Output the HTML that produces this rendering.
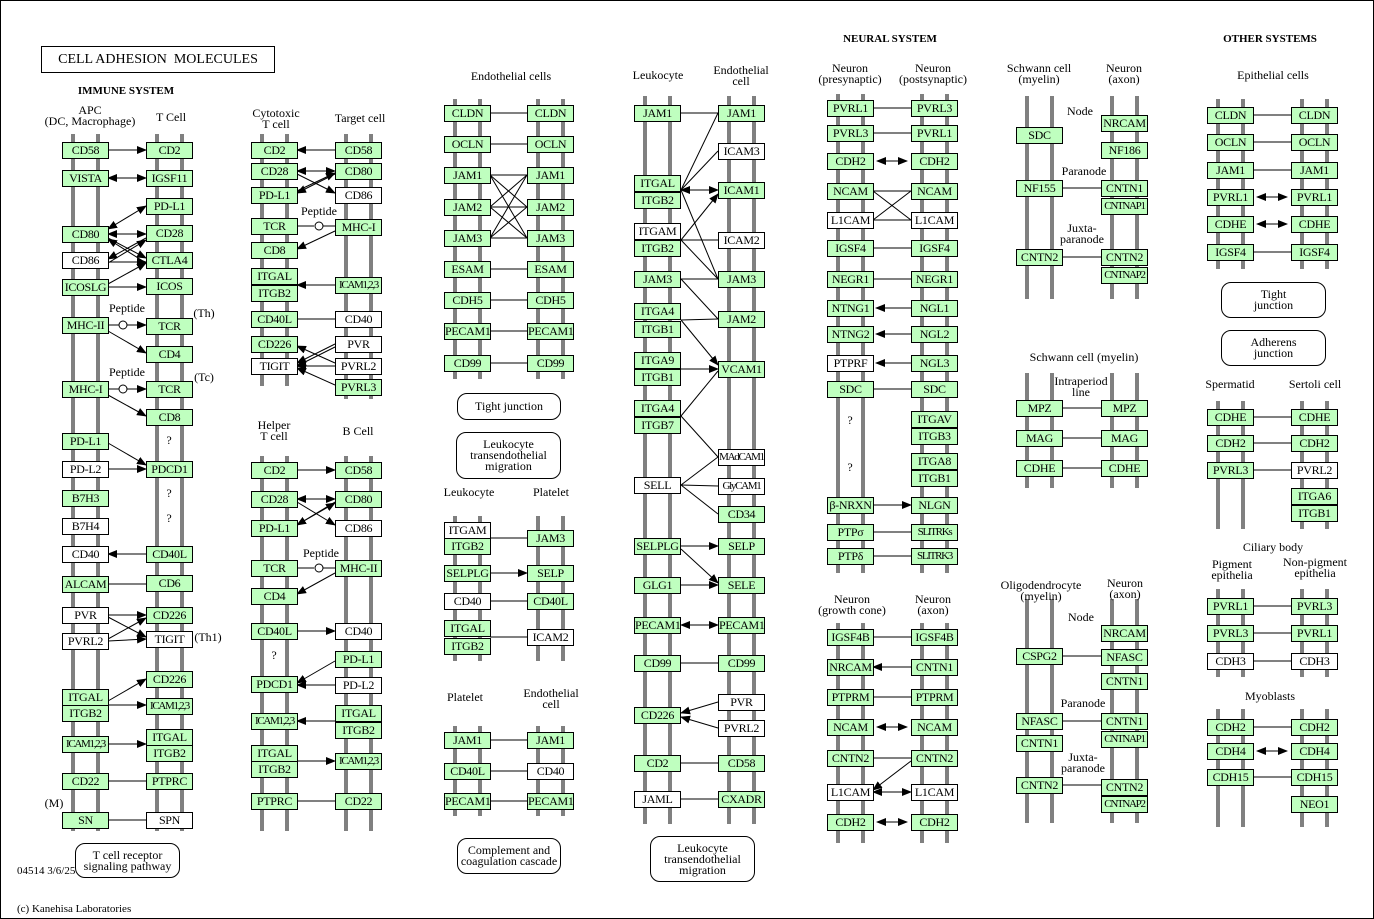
<!DOCTYPE html>
<html><head><meta charset="utf-8"><style>
body{margin:0;background:#fff}
#c{position:relative;width:1372px;height:917px;border:1px solid #000;overflow:hidden;font-family:"Liberation Serif",serif;font-size:12px;color:#000}
.r{position:absolute;width:4px;background:#808080}
.b{position:absolute;width:45px;height:15px;border:1px solid #000;background:#fff;text-align:center;line-height:15px;font-size:12px;white-space:nowrap;overflow:hidden;letter-spacing:-0.3px}
.g{background:#bfffbf}
.s{font-size:11px;letter-spacing:-1.3px}
.t{position:absolute;transform:translateX(-50%);text-align:center;line-height:11px;white-space:nowrap;font-size:12px}
.h{font-weight:bold;font-size:11px}
.rb{position:absolute;border:1px solid #000;border-radius:10px;text-align:center;font-size:12px;line-height:11px;display:flex;align-items:center;justify-content:center;background:#fff}
svg{position:absolute;left:0;top:0}
</style></head><body><div id="c">
<!-- bars -->
<div class="r" style="left:70px;top:133px;height:697px"></div><div class="r" style="left:95px;top:133px;height:697px"></div>
<div class="r" style="left:154px;top:133px;height:697px"></div><div class="r" style="left:179px;top:133px;height:697px"></div>
<div class="r" style="left:259px;top:133px;height:252px"></div><div class="r" style="left:284px;top:133px;height:252px"></div>
<div class="r" style="left:343px;top:133px;height:265px"></div><div class="r" style="left:368px;top:133px;height:265px"></div>
<div class="r" style="left:259px;top:455px;height:375px"></div><div class="r" style="left:284px;top:455px;height:375px"></div>
<div class="r" style="left:343px;top:455px;height:375px"></div><div class="r" style="left:368px;top:455px;height:375px"></div>
<div class="r" style="left:452px;top:98px;height:280px"></div><div class="r" style="left:477px;top:98px;height:280px"></div>
<div class="r" style="left:535px;top:98px;height:280px"></div><div class="r" style="left:560px;top:98px;height:280px"></div>
<div class="r" style="left:452px;top:515px;height:145px"></div><div class="r" style="left:477px;top:515px;height:145px"></div>
<div class="r" style="left:535px;top:515px;height:145px"></div><div class="r" style="left:560px;top:515px;height:145px"></div>
<div class="r" style="left:452px;top:725px;height:90px"></div><div class="r" style="left:477px;top:725px;height:90px"></div>
<div class="r" style="left:535px;top:725px;height:90px"></div><div class="r" style="left:560px;top:725px;height:90px"></div>
<div class="r" style="left:642px;top:95px;height:728px"></div><div class="r" style="left:667px;top:95px;height:728px"></div>
<div class="r" style="left:726px;top:95px;height:728px"></div><div class="r" style="left:751px;top:95px;height:728px"></div>
<div class="r" style="left:835px;top:93px;height:479px"></div><div class="r" style="left:860px;top:93px;height:479px"></div>
<div class="r" style="left:919px;top:93px;height:479px"></div><div class="r" style="left:944px;top:93px;height:479px"></div>
<div class="r" style="left:835px;top:622px;height:220px"></div><div class="r" style="left:860px;top:622px;height:220px"></div>
<div class="r" style="left:919px;top:622px;height:220px"></div><div class="r" style="left:944px;top:622px;height:220px"></div>
<div class="r" style="left:1024px;top:95px;height:203px"></div><div class="r" style="left:1049px;top:95px;height:203px"></div>
<div class="r" style="left:1109px;top:95px;height:203px"></div><div class="r" style="left:1134px;top:95px;height:203px"></div>
<div class="r" style="left:1024px;top:372px;height:115px"></div><div class="r" style="left:1049px;top:372px;height:115px"></div>
<div class="r" style="left:1109px;top:372px;height:115px"></div><div class="r" style="left:1134px;top:372px;height:115px"></div>
<div class="r" style="left:1024px;top:598px;height:224px"></div><div class="r" style="left:1049px;top:598px;height:224px"></div>
<div class="r" style="left:1109px;top:598px;height:224px"></div><div class="r" style="left:1134px;top:598px;height:224px"></div>
<div class="r" style="left:1215px;top:98px;height:170px"></div><div class="r" style="left:1240px;top:98px;height:170px"></div>
<div class="r" style="left:1299px;top:98px;height:170px"></div><div class="r" style="left:1324px;top:98px;height:170px"></div>
<div class="r" style="left:1215px;top:400px;height:128px"></div><div class="r" style="left:1240px;top:400px;height:128px"></div>
<div class="r" style="left:1299px;top:400px;height:128px"></div><div class="r" style="left:1324px;top:400px;height:128px"></div>
<div class="r" style="left:1215px;top:588px;height:88px"></div><div class="r" style="left:1240px;top:588px;height:88px"></div>
<div class="r" style="left:1299px;top:588px;height:88px"></div><div class="r" style="left:1324px;top:588px;height:88px"></div>
<div class="r" style="left:1215px;top:708px;height:118px"></div><div class="r" style="left:1240px;top:708px;height:118px"></div>
<div class="r" style="left:1299px;top:708px;height:118px"></div><div class="r" style="left:1324px;top:708px;height:118px"></div>

<svg width="1374" height="919">
<defs><marker id="a" markerWidth="10" markerHeight="8" refX="9" refY="4" orient="auto" markerUnits="userSpaceOnUse"><path d="M0,0L10,4L0,8z"/></marker>
<marker id="s" markerWidth="10" markerHeight="8" refX="1" refY="4" orient="auto" markerUnits="userSpaceOnUse"><path d="M10,0L0,4L10,8z"/></marker></defs>
<g stroke="#000" stroke-width="1" fill="none">
<line x1="107" y1="149" x2="145" y2="149" marker-end="url(#a)"/>
<line x1="107" y1="177" x2="145" y2="177" marker-end="url(#a)" marker-start="url(#s)"/>
<line x1="107" y1="228" x2="145" y2="205" marker-end="url(#a)" marker-start="url(#s)"/>
<line x1="107" y1="233" x2="145" y2="233" marker-end="url(#a)" marker-start="url(#s)"/>
<line x1="107" y1="237" x2="145" y2="257" marker-end="url(#a)"/>
<line x1="145" y1="237" x2="107" y2="258" marker-end="url(#a)"/>
<line x1="107" y1="261" x2="145" y2="261" marker-end="url(#a)"/>
<line x1="107" y1="262" x2="145" y2="239" marker-end="url(#a)"/>
<line x1="107" y1="283" x2="145" y2="262" marker-end="url(#a)"/>
<line x1="107" y1="286" x2="145" y2="286" marker-end="url(#a)"/>
<line x1="145" y1="262" x2="107" y2="238" marker-end="url(#a)"/>
<line x1="107" y1="324" x2="118" y2="324"/><line x1="126" y1="324" x2="145" y2="324" marker-end="url(#a)"/>
<line x1="107" y1="330" x2="145" y2="352" marker-end="url(#a)"/>
<line x1="107" y1="388" x2="118" y2="388"/><line x1="126" y1="388" x2="145" y2="388" marker-end="url(#a)"/>
<line x1="107" y1="394" x2="145" y2="415" marker-end="url(#a)"/>
<line x1="107" y1="442" x2="145" y2="464" marker-end="url(#a)"/>
<line x1="107" y1="468" x2="145" y2="468" marker-end="url(#a)"/>
<line x1="145" y1="553" x2="107" y2="553" marker-end="url(#a)"/>
<line x1="107" y1="583" x2="145" y2="583"/>
<line x1="107" y1="614" x2="145" y2="614" marker-end="url(#a)"/>
<line x1="107" y1="616" x2="145" y2="636" marker-end="url(#a)"/>
<line x1="107" y1="638" x2="145" y2="617" marker-end="url(#a)"/>
<line x1="107" y1="640" x2="145" y2="638" marker-end="url(#a)"/>
<line x1="107" y1="700" x2="145" y2="678" marker-end="url(#a)"/>
<line x1="107" y1="704" x2="145" y2="704" marker-end="url(#a)"/>
<line x1="107" y1="743" x2="145" y2="743" marker-end="url(#a)"/>
<line x1="107" y1="780" x2="145" y2="780"/>
<line x1="107" y1="819" x2="145" y2="819"/>
<line x1="334" y1="149" x2="296" y2="149" marker-end="url(#a)"/>
<line x1="296" y1="170" x2="334" y2="170" marker-end="url(#a)" marker-start="url(#s)"/>
<line x1="296" y1="173" x2="334" y2="192" marker-end="url(#a)"/>
<line x1="334" y1="173" x2="296" y2="192" marker-end="url(#a)"/>
<line x1="296" y1="190" x2="334" y2="172" marker-end="url(#a)"/>
<line x1="296" y1="225" x2="313" y2="225"/><line x1="322" y1="225" x2="334" y2="225"/>
<line x1="334" y1="230" x2="296" y2="248" marker-end="url(#a)"/>
<line x1="334" y1="284" x2="296" y2="284" marker-end="url(#a)"/>
<line x1="334" y1="318" x2="296" y2="318"/>
<line x1="334" y1="343" x2="296" y2="362" marker-end="url(#a)"/>
<line x1="334" y1="346" x2="296" y2="365" marker-end="url(#a)"/>
<line x1="334" y1="362" x2="296" y2="345" marker-end="url(#a)"/>
<line x1="334" y1="365" x2="296" y2="365" marker-end="url(#a)"/>
<line x1="334" y1="384" x2="296" y2="367" marker-end="url(#a)"/>
<line x1="296" y1="469" x2="334" y2="469" marker-end="url(#a)"/>
<line x1="296" y1="498" x2="334" y2="498" marker-end="url(#a)" marker-start="url(#s)"/>
<line x1="296" y1="501" x2="334" y2="524" marker-end="url(#a)"/>
<line x1="334" y1="501" x2="296" y2="524" marker-end="url(#a)"/>
<line x1="296" y1="524" x2="334" y2="502" marker-end="url(#a)"/>
<line x1="296" y1="567" x2="313" y2="567"/><line x1="322" y1="567" x2="334" y2="567"/>
<line x1="334" y1="572" x2="296" y2="593" marker-end="url(#a)"/>
<line x1="296" y1="630" x2="334" y2="630" marker-end="url(#a)"/>
<line x1="334" y1="660" x2="296" y2="682" marker-end="url(#a)"/>
<line x1="334" y1="684" x2="296" y2="684" marker-end="url(#a)"/>
<line x1="334" y1="720" x2="296" y2="720" marker-end="url(#a)"/>
<line x1="296" y1="760" x2="334" y2="760" marker-end="url(#a)"/>
<line x1="296" y1="800" x2="334" y2="800"/>
<line x1="489" y1="112" x2="526" y2="112"/><line x1="489" y1="143" x2="526" y2="143"/>
<line x1="489" y1="174" x2="526" y2="174"/><line x1="489" y1="174" x2="526" y2="206"/><line x1="489" y1="174" x2="526" y2="237"/>
<line x1="489" y1="206" x2="526" y2="174"/><line x1="489" y1="206" x2="526" y2="206"/><line x1="489" y1="206" x2="526" y2="237"/>
<line x1="489" y1="237" x2="526" y2="174"/><line x1="489" y1="237" x2="526" y2="206"/><line x1="489" y1="237" x2="526" y2="237"/>
<line x1="489" y1="268" x2="526" y2="268"/><line x1="489" y1="299" x2="526" y2="299"/><line x1="489" y1="330" x2="526" y2="330"/><line x1="489" y1="362" x2="526" y2="362"/>
<line x1="489" y1="537" x2="526" y2="537"/><line x1="489" y1="572" x2="526" y2="572" marker-end="url(#a)"/>
<line x1="489" y1="600" x2="526" y2="600"/><line x1="489" y1="636" x2="526" y2="636"/>
<line x1="489" y1="739" x2="526" y2="739"/><line x1="489" y1="770" x2="526" y2="770"/><line x1="489" y1="800" x2="526" y2="800"/>
<line x1="680" y1="112" x2="717" y2="112"/>
<line x1="680" y1="189" x2="717" y2="112"/><line x1="680" y1="189" x2="717" y2="150"/>
<line x1="680" y1="189" x2="717" y2="189" marker-end="url(#a)" marker-start="url(#s)"/>
<line x1="680" y1="189" x2="717" y2="278"/>
<line x1="680" y1="239" x2="717" y2="193" marker-end="url(#a)"/>
<line x1="680" y1="239" x2="717" y2="239"/><line x1="680" y1="239" x2="717" y2="278"/>
<line x1="680" y1="278" x2="717" y2="278"/><line x1="680" y1="278" x2="717" y2="318"/>
<line x1="680" y1="319" x2="717" y2="318"/><line x1="680" y1="319" x2="717" y2="364" marker-end="url(#a)"/>
<line x1="680" y1="368" x2="717" y2="368" marker-end="url(#a)"/>
<line x1="680" y1="415" x2="717" y2="370"/><line x1="680" y1="415" x2="717" y2="456"/>
<line x1="680" y1="484" x2="717" y2="456"/><line x1="680" y1="484" x2="717" y2="485"/><line x1="680" y1="484" x2="717" y2="513"/>
<line x1="680" y1="545" x2="717" y2="545" marker-end="url(#a)"/><line x1="680" y1="548" x2="717" y2="582" marker-end="url(#a)"/>
<line x1="680" y1="584" x2="717" y2="584" marker-end="url(#a)"/>
<line x1="680" y1="624" x2="717" y2="624" marker-end="url(#a)" marker-start="url(#s)"/>
<line x1="680" y1="662" x2="717" y2="662"/>
<line x1="717" y1="701" x2="680" y2="712" marker-end="url(#a)"/><line x1="717" y1="727" x2="680" y2="716" marker-end="url(#a)"/>
<line x1="680" y1="762" x2="717" y2="762"/><line x1="680" y1="798" x2="717" y2="798"/>
<line x1="872" y1="107" x2="910" y2="107"/><line x1="872" y1="132" x2="910" y2="132"/>
<line x1="876" y1="160" x2="906" y2="160" marker-end="url(#a)" marker-start="url(#s)"/>
<line x1="872" y1="190" x2="910" y2="190"/><line x1="872" y1="219" x2="910" y2="219"/><line x1="872" y1="190" x2="910" y2="219"/><line x1="872" y1="219" x2="910" y2="190"/>
<line x1="872" y1="247" x2="910" y2="247"/><line x1="872" y1="278" x2="910" y2="278"/>
<line x1="910" y1="307" x2="875" y2="307" marker-end="url(#a)"/><line x1="910" y1="333" x2="875" y2="333" marker-end="url(#a)"/><line x1="910" y1="362" x2="875" y2="362" marker-end="url(#a)"/>
<line x1="872" y1="388" x2="910" y2="388"/>
<line x1="872" y1="504" x2="910" y2="504" marker-end="url(#a)"/><line x1="872" y1="531" x2="910" y2="531"/><line x1="872" y1="555" x2="910" y2="555"/>
<line x1="872" y1="636" x2="910" y2="636"/><line x1="910" y1="666" x2="872" y2="666" marker-end="url(#a)"/>
<line x1="872" y1="696" x2="910" y2="696"/><line x1="876" y1="726" x2="906" y2="726" marker-end="url(#a)" marker-start="url(#s)"/>
<line x1="872" y1="757" x2="910" y2="757"/><line x1="872" y1="791" x2="910" y2="791" marker-end="url(#a)" marker-start="url(#s)"/>
<line x1="910" y1="760" x2="872" y2="789" marker-end="url(#a)"/>
<line x1="876" y1="821" x2="906" y2="821" marker-end="url(#a)" marker-start="url(#s)"/>
<line x1="1061" y1="187" x2="1100" y2="187"/><line x1="1061" y1="256" x2="1100" y2="256"/>
<line x1="1061" y1="407" x2="1100" y2="407"/><line x1="1061" y1="437" x2="1100" y2="437"/><line x1="1061" y1="467" x2="1100" y2="467"/>
<line x1="1061" y1="655" x2="1100" y2="655"/><line x1="1061" y1="720" x2="1100" y2="720"/><line x1="1061" y1="784" x2="1100" y2="784"/>
<line x1="1252" y1="114" x2="1290" y2="114"/><line x1="1252" y1="141" x2="1290" y2="141"/><line x1="1252" y1="169" x2="1290" y2="169"/>
<line x1="1256" y1="196" x2="1286" y2="196" marker-end="url(#a)" marker-start="url(#s)"/>
<line x1="1256" y1="223" x2="1286" y2="223" marker-end="url(#a)" marker-start="url(#s)"/>
<line x1="1252" y1="251" x2="1290" y2="251"/>
<line x1="1252" y1="416" x2="1290" y2="416"/><line x1="1252" y1="442" x2="1290" y2="442"/><line x1="1252" y1="469" x2="1290" y2="469"/>
<line x1="1252" y1="605" x2="1290" y2="605"/><line x1="1252" y1="632" x2="1290" y2="632"/><line x1="1252" y1="660" x2="1290" y2="660"/>
<line x1="1252" y1="726" x2="1290" y2="726"/><line x1="1256" y1="750" x2="1286" y2="750" marker-end="url(#a)" marker-start="url(#s)"/><line x1="1252" y1="776" x2="1290" y2="776"/>
<circle cx="122" cy="324" r="4" fill="#fff"/><circle cx="122" cy="388" r="4" fill="#fff"/>
<circle cx="318" cy="225" r="4" fill="#fff"/><circle cx="318" cy="567" r="4" fill="#fff"/>
</g></svg>

<div class="b g" style="left:61px;top:141px">CD58</div><div class="b g" style="left:61px;top:169px">VISTA</div>
<div class="b g" style="left:61px;top:225px">CD80</div><div class="b" style="left:61px;top:251px">CD86</div>
<div class="b g" style="left:61px;top:278px">ICOSLG</div><div class="b g" style="left:61px;top:316px">MHC-II</div>
<div class="b g" style="left:61px;top:380px">MHC-I</div><div class="b g" style="left:61px;top:432px">PD-L1</div>
<div class="b" style="left:61px;top:460px">PD-L2</div><div class="b g" style="left:61px;top:489px">B7H3</div>
<div class="b" style="left:61px;top:517px">B7H4</div><div class="b" style="left:61px;top:545px">CD40</div>
<div class="b g" style="left:61px;top:575px">ALCAM</div><div class="b" style="left:61px;top:606px">PVR</div>
<div class="b" style="left:61px;top:632px">PVRL2</div><div class="b g" style="left:61px;top:688px">ITGAL</div>
<div class="b g" style="left:61px;top:704px">ITGB2</div><div class="b g s" style="left:61px;top:735px">ICAM1,2,3</div>
<div class="b g" style="left:61px;top:772px">CD22</div><div class="b g" style="left:61px;top:811px">SN</div>
<div class="b g" style="left:145px;top:141px">CD2</div><div class="b g" style="left:145px;top:169px">IGSF11</div>
<div class="b g" style="left:145px;top:197px">PD-L1</div><div class="b g" style="left:145px;top:224px">CD28</div>
<div class="b g" style="left:145px;top:251px">CTLA4</div><div class="b g" style="left:145px;top:277px">ICOS</div>
<div class="b g" style="left:145px;top:317px">TCR</div><div class="b g" style="left:145px;top:345px">CD4</div>
<div class="b g" style="left:145px;top:380px">TCR</div><div class="b g" style="left:145px;top:408px">CD8</div>
<div class="b g" style="left:145px;top:460px">PDCD1</div><div class="b g" style="left:145px;top:545px">CD40L</div>
<div class="b g" style="left:145px;top:574px">CD6</div><div class="b g" style="left:145px;top:606px">CD226</div>
<div class="b" style="left:145px;top:630px">TIGIT</div><div class="b g" style="left:145px;top:670px">CD226</div>
<div class="b g s" style="left:145px;top:697px">ICAM1,2,3</div><div class="b g" style="left:145px;top:728px">ITGAL</div>
<div class="b g" style="left:145px;top:744px">ITGB2</div><div class="b g" style="left:145px;top:772px">PTPRC</div>
<div class="b" style="left:145px;top:811px">SPN</div>
<div class="b g" style="left:250px;top:141px">CD2</div><div class="b g" style="left:250px;top:162px">CD28</div>
<div class="b g" style="left:250px;top:186px">PD-L1</div><div class="b g" style="left:250px;top:217px">TCR</div>
<div class="b g" style="left:250px;top:241px">CD8</div><div class="b g" style="left:250px;top:267px">ITGAL</div>
<div class="b g" style="left:250px;top:284px">ITGB2</div><div class="b g" style="left:250px;top:310px">CD40L</div>
<div class="b g" style="left:250px;top:335px">CD226</div><div class="b" style="left:250px;top:357px">TIGIT</div>
<div class="b g" style="left:250px;top:461px">CD2</div><div class="b g" style="left:250px;top:490px">CD28</div>
<div class="b g" style="left:250px;top:519px">PD-L1</div><div class="b g" style="left:250px;top:559px">TCR</div>
<div class="b g" style="left:250px;top:587px">CD4</div><div class="b g" style="left:250px;top:622px">CD40L</div>
<div class="b g" style="left:250px;top:675px">PDCD1</div><div class="b g s" style="left:250px;top:712px">ICAM1,2,3</div>
<div class="b g" style="left:250px;top:744px">ITGAL</div><div class="b g" style="left:250px;top:760px">ITGB2</div>
<div class="b g" style="left:250px;top:792px">PTPRC</div>
<div class="b g" style="left:334px;top:141px">CD58</div><div class="b g" style="left:334px;top:162px">CD80</div>
<div class="b" style="left:334px;top:186px">CD86</div><div class="b g" style="left:334px;top:218px">MHC-I</div>
<div class="b g s" style="left:334px;top:276px">ICAM1,2,3</div><div class="b" style="left:334px;top:310px">CD40</div>
<div class="b" style="left:334px;top:335px">PVR</div><div class="b" style="left:334px;top:357px">PVRL2</div>
<div class="b g" style="left:334px;top:378px">PVRL3</div>
<div class="b g" style="left:334px;top:461px">CD58</div><div class="b g" style="left:334px;top:490px">CD80</div>
<div class="b" style="left:334px;top:519px">CD86</div><div class="b g" style="left:334px;top:559px">MHC-II</div>
<div class="b" style="left:334px;top:622px">CD40</div><div class="b g" style="left:334px;top:650px">PD-L1</div>
<div class="b" style="left:334px;top:676px">PD-L2</div><div class="b g" style="left:334px;top:704px">ITGAL</div>
<div class="b g" style="left:334px;top:721px">ITGB2</div><div class="b g s" style="left:334px;top:752px">ICAM1,2,3</div>
<div class="b g" style="left:334px;top:792px">CD22</div>
<div class="b g" style="left:443px;top:104px">CLDN</div><div class="b g" style="left:443px;top:135px">OCLN</div>
<div class="b g" style="left:443px;top:166px">JAM1</div><div class="b g" style="left:443px;top:198px">JAM2</div>
<div class="b g" style="left:443px;top:229px">JAM3</div><div class="b g" style="left:443px;top:260px">ESAM</div>
<div class="b g" style="left:443px;top:291px">CDH5</div><div class="b g" style="left:443px;top:322px">PECAM1</div>
<div class="b g" style="left:443px;top:354px">CD99</div>
<div class="b g" style="left:526px;top:104px">CLDN</div><div class="b g" style="left:526px;top:135px">OCLN</div>
<div class="b g" style="left:526px;top:166px">JAM1</div><div class="b g" style="left:526px;top:198px">JAM2</div>
<div class="b g" style="left:526px;top:229px">JAM3</div><div class="b g" style="left:526px;top:260px">ESAM</div>
<div class="b g" style="left:526px;top:291px">CDH5</div><div class="b g" style="left:526px;top:322px">PECAM1</div>
<div class="b g" style="left:526px;top:354px">CD99</div>
<div class="b" style="left:443px;top:521px">ITGAM</div><div class="b g" style="left:443px;top:537px">ITGB2</div>
<div class="b g" style="left:443px;top:564px">SELPLG</div><div class="b" style="left:443px;top:592px">CD40</div>
<div class="b g" style="left:443px;top:619px">ITGAL</div><div class="b g" style="left:443px;top:637px">ITGB2</div>
<div class="b g" style="left:526px;top:529px">JAM3</div><div class="b g" style="left:526px;top:564px">SELP</div>
<div class="b g" style="left:526px;top:592px">CD40L</div><div class="b" style="left:526px;top:628px">ICAM2</div>
<div class="b g" style="left:443px;top:731px">JAM1</div><div class="b g" style="left:443px;top:762px">CD40L</div>
<div class="b g" style="left:443px;top:792px">PECAM1</div>
<div class="b g" style="left:526px;top:731px">JAM1</div><div class="b" style="left:526px;top:762px">CD40</div>
<div class="b g" style="left:526px;top:792px">PECAM1</div>
<div class="b g" style="left:633px;top:104px">JAM1</div><div class="b g" style="left:633px;top:174px">ITGAL</div>
<div class="b g" style="left:633px;top:191px">ITGB2</div><div class="b" style="left:633px;top:222px">ITGAM</div>
<div class="b g" style="left:633px;top:239px">ITGB2</div><div class="b g" style="left:633px;top:270px">JAM3</div>
<div class="b g" style="left:633px;top:302px">ITGA4</div><div class="b g" style="left:633px;top:320px">ITGB1</div>
<div class="b g" style="left:633px;top:351px">ITGA9</div><div class="b g" style="left:633px;top:368px">ITGB1</div>
<div class="b g" style="left:633px;top:399px">ITGA4</div><div class="b g" style="left:633px;top:416px">ITGB7</div>
<div class="b" style="left:633px;top:476px">SELL</div><div class="b g" style="left:633px;top:537px">SELPLG</div>
<div class="b g" style="left:633px;top:576px">GLG1</div><div class="b g" style="left:633px;top:616px">PECAM1</div>
<div class="b g" style="left:633px;top:654px">CD99</div><div class="b g" style="left:633px;top:706px">CD226</div>
<div class="b g" style="left:633px;top:754px">CD2</div><div class="b" style="left:633px;top:790px">JAML</div>
<div class="b g" style="left:717px;top:104px">JAM1</div><div class="b" style="left:717px;top:142px">ICAM3</div>
<div class="b g" style="left:717px;top:181px">ICAM1</div><div class="b" style="left:717px;top:231px">ICAM2</div>
<div class="b g" style="left:717px;top:270px">JAM3</div><div class="b g" style="left:717px;top:310px">JAM2</div>
<div class="b g" style="left:717px;top:360px">VCAM1</div><div class="b s" style="left:717px;top:448px">MAdCAM1</div>
<div class="b s" style="left:717px;top:477px">GlyCAM1</div><div class="b g" style="left:717px;top:505px">CD34</div>
<div class="b g" style="left:717px;top:537px">SELP</div><div class="b g" style="left:717px;top:576px">SELE</div>
<div class="b g" style="left:717px;top:616px">PECAM1</div><div class="b g" style="left:717px;top:654px">CD99</div>
<div class="b" style="left:717px;top:693px">PVR</div><div class="b" style="left:717px;top:719px">PVRL2</div>
<div class="b g" style="left:717px;top:754px">CD58</div><div class="b g" style="left:717px;top:790px">CXADR</div>
<div class="b g" style="left:826px;top:99px">PVRL1</div><div class="b g" style="left:826px;top:124px">PVRL3</div>
<div class="b g" style="left:826px;top:152px">CDH2</div><div class="b g" style="left:826px;top:182px">NCAM</div>
<div class="b" style="left:826px;top:211px">L1CAM</div><div class="b g" style="left:826px;top:239px">IGSF4</div>
<div class="b g" style="left:826px;top:270px">NEGR1</div><div class="b g" style="left:826px;top:299px">NTNG1</div>
<div class="b g" style="left:826px;top:325px">NTNG2</div><div class="b" style="left:826px;top:354px">PTPRF</div>
<div class="b g" style="left:826px;top:380px">SDC</div><div class="b g" style="left:826px;top:496px">β-NRXN</div>
<div class="b g" style="left:826px;top:523px">PTPσ</div><div class="b g" style="left:826px;top:547px">PTPδ</div>
<div class="b g" style="left:826px;top:628px">IGSF4B</div><div class="b g" style="left:826px;top:658px">NRCAM</div>
<div class="b g" style="left:826px;top:688px">PTPRM</div><div class="b g" style="left:826px;top:718px">NCAM</div>
<div class="b g" style="left:826px;top:749px">CNTN2</div><div class="b" style="left:826px;top:783px">L1CAM</div>
<div class="b g" style="left:826px;top:813px">CDH2</div>
<div class="b g" style="left:910px;top:99px">PVRL3</div><div class="b g" style="left:910px;top:124px">PVRL1</div>
<div class="b g" style="left:910px;top:152px">CDH2</div><div class="b g" style="left:910px;top:182px">NCAM</div>
<div class="b" style="left:910px;top:211px">L1CAM</div><div class="b g" style="left:910px;top:239px">IGSF4</div>
<div class="b g" style="left:910px;top:270px">NEGR1</div><div class="b g" style="left:910px;top:299px">NGL1</div>
<div class="b g" style="left:910px;top:325px">NGL2</div><div class="b g" style="left:910px;top:354px">NGL3</div>
<div class="b g" style="left:910px;top:380px">SDC</div><div class="b g" style="left:910px;top:410px">ITGAV</div>
<div class="b g" style="left:910px;top:427px">ITGB3</div><div class="b g" style="left:910px;top:452px">ITGA8</div>
<div class="b g" style="left:910px;top:469px">ITGB1</div><div class="b g" style="left:910px;top:496px">NLGN</div>
<div class="b g s" style="left:910px;top:523px">SLITRKs</div><div class="b g s" style="left:910px;top:547px">SLITRK3</div>
<div class="b g" style="left:910px;top:628px">IGSF4B</div><div class="b g" style="left:910px;top:658px">CNTN1</div>
<div class="b g" style="left:910px;top:688px">PTPRM</div><div class="b g" style="left:910px;top:718px">NCAM</div>
<div class="b g" style="left:910px;top:749px">CNTN2</div><div class="b" style="left:910px;top:783px">L1CAM</div>
<div class="b g" style="left:910px;top:813px">CDH2</div>
<div class="b g" style="left:1015px;top:126px">SDC</div><div class="b g" style="left:1015px;top:179px">NF155</div>
<div class="b g" style="left:1015px;top:248px">CNTN2</div>
<div class="b g" style="left:1100px;top:114px">NRCAM</div><div class="b g" style="left:1100px;top:141px">NF186</div>
<div class="b g" style="left:1100px;top:179px">CNTN1</div><div class="b g s" style="left:1100px;top:197px">CNTNAP1</div>
<div class="b g" style="left:1100px;top:248px">CNTN2</div><div class="b g s" style="left:1100px;top:266px">CNTNAP2</div>
<div class="b g" style="left:1015px;top:399px">MPZ</div><div class="b g" style="left:1015px;top:429px">MAG</div>
<div class="b g" style="left:1015px;top:459px">CDHE</div>
<div class="b g" style="left:1100px;top:399px">MPZ</div><div class="b g" style="left:1100px;top:429px">MAG</div>
<div class="b g" style="left:1100px;top:459px">CDHE</div>
<div class="b g" style="left:1015px;top:647px">CSPG2</div><div class="b g" style="left:1015px;top:712px">NFASC</div>
<div class="b g" style="left:1015px;top:734px">CNTN1</div><div class="b g" style="left:1015px;top:776px">CNTN2</div>
<div class="b g" style="left:1100px;top:624px">NRCAM</div><div class="b g" style="left:1100px;top:648px">NFASC</div>
<div class="b g" style="left:1100px;top:672px">CNTN1</div><div class="b g" style="left:1100px;top:712px">CNTN1</div>
<div class="b g s" style="left:1100px;top:730px">CNTNAP1</div><div class="b g" style="left:1100px;top:778px">CNTN2</div>
<div class="b g s" style="left:1100px;top:795px">CNTNAP2</div>
<div class="b g" style="left:1206px;top:106px">CLDN</div><div class="b g" style="left:1206px;top:133px">OCLN</div>
<div class="b g" style="left:1206px;top:161px">JAM1</div><div class="b g" style="left:1206px;top:188px">PVRL1</div>
<div class="b g" style="left:1206px;top:215px">CDHE</div><div class="b g" style="left:1206px;top:243px">IGSF4</div>
<div class="b g" style="left:1290px;top:106px">CLDN</div><div class="b g" style="left:1290px;top:133px">OCLN</div>
<div class="b g" style="left:1290px;top:161px">JAM1</div><div class="b g" style="left:1290px;top:188px">PVRL1</div>
<div class="b g" style="left:1290px;top:215px">CDHE</div><div class="b g" style="left:1290px;top:243px">IGSF4</div>
<div class="b g" style="left:1206px;top:408px">CDHE</div><div class="b g" style="left:1206px;top:434px">CDH2</div>
<div class="b g" style="left:1206px;top:461px">PVRL3</div>
<div class="b g" style="left:1290px;top:408px">CDHE</div><div class="b g" style="left:1290px;top:434px">CDH2</div>
<div class="b" style="left:1290px;top:461px">PVRL2</div><div class="b g" style="left:1290px;top:487px">ITGA6</div>
<div class="b g" style="left:1290px;top:504px">ITGB1</div>
<div class="b g" style="left:1206px;top:597px">PVRL1</div><div class="b g" style="left:1206px;top:624px">PVRL3</div>
<div class="b" style="left:1206px;top:652px">CDH3</div>
<div class="b g" style="left:1290px;top:597px">PVRL3</div><div class="b g" style="left:1290px;top:624px">PVRL1</div>
<div class="b" style="left:1290px;top:652px">CDH3</div>
<div class="b g" style="left:1206px;top:718px">CDH2</div><div class="b g" style="left:1206px;top:742px">CDH4</div>
<div class="b g" style="left:1206px;top:768px">CDH15</div>
<div class="b g" style="left:1290px;top:718px">CDH2</div><div class="b g" style="left:1290px;top:742px">CDH4</div>
<div class="b g" style="left:1290px;top:768px">CDH15</div><div class="b g" style="left:1290px;top:795px">NEO1</div>

<div style="position:absolute;left:40px;top:45px;width:232px;height:25px;border:1px solid #000;text-align:center;line-height:25px;font-size:14px">CELL ADHESION&nbsp; MOLECULES</div>
<div class="t h" style="left:125px;top:85px">IMMUNE SYSTEM</div>
<div class="t h" style="left:889px;top:33px">NEURAL SYSTEM</div>
<div class="t h" style="left:1269px;top:33px">OTHER SYSTEMS</div>
<div class="t" style="left:89px;top:104px">APC<br>(DC, Macrophage)</div>
<div class="t" style="left:170px;top:111px">T Cell</div>
<div class="t" style="left:275px;top:107px">Cytotoxic<br>T cell</div>
<div class="t" style="left:359px;top:112px">Target cell</div>
<div class="t" style="left:273px;top:419px">Helper<br>T cell</div>
<div class="t" style="left:357px;top:425px">B Cell</div>
<div class="t" style="left:510px;top:70px">Endothelial cells</div>
<div class="t" style="left:468px;top:486px">Leukocyte</div>
<div class="t" style="left:550px;top:486px">Platelet</div>
<div class="t" style="left:464px;top:691px">Platelet</div>
<div class="t" style="left:550px;top:687px">Endothelial<br>cell</div>
<div class="t" style="left:657px;top:69px">Leukocyte</div>
<div class="t" style="left:740px;top:64px">Endothelial<br>cell</div>
<div class="t" style="left:849px;top:62px">Neuron<br>(presynaptic)</div>
<div class="t" style="left:932px;top:62px">Neuron<br>(postsynaptic)</div>
<div class="t" style="left:1038px;top:62px">Schwann cell<br>(myelin)</div>
<div class="t" style="left:1123px;top:62px">Neuron<br>(axon)</div>
<div class="t" style="left:1079px;top:105px">Node</div>
<div class="t" style="left:1083px;top:165px">Paranode</div>
<div class="t" style="left:1081px;top:222px">Juxta-<br>paranode</div>
<div class="t" style="left:1083px;top:351px">Schwann cell (myelin)</div>
<div class="t" style="left:1080px;top:375px">Intraperiod<br>line</div>
<div class="t" style="left:851px;top:593px">Neuron<br>(growth cone)</div>
<div class="t" style="left:932px;top:593px">Neuron<br>(axon)</div>
<div class="t" style="left:1040px;top:579px">Oligodendrocyte<br>(myelin)</div>
<div class="t" style="left:1124px;top:577px">Neuron<br>(axon)</div>
<div class="t" style="left:1080px;top:611px">Node</div>
<div class="t" style="left:1082px;top:697px">Paranode</div>
<div class="t" style="left:1082px;top:751px">Juxta-<br>paranode</div>
<div class="t" style="left:1272px;top:69px">Epithelial cells</div>
<div class="t" style="left:1229px;top:378px">Spermatid</div>
<div class="t" style="left:1314px;top:378px">Sertoli cell</div>
<div class="t" style="left:1272px;top:541px">Ciliary body</div>
<div class="t" style="left:1231px;top:558px">Pigment<br>epithelia</div>
<div class="t" style="left:1314px;top:556px">Non-pigment<br>epithelia</div>
<div class="t" style="left:1269px;top:690px">Myoblasts</div>
<div class="t" style="left:126px;top:302px">Peptide</div>
<div class="t" style="left:126px;top:366px">Peptide</div>
<div class="t" style="left:318px;top:205px">Peptide</div>
<div class="t" style="left:320px;top:547px">Peptide</div>
<div class="t" style="left:203px;top:307px">(Th)</div>
<div class="t" style="left:203px;top:371px">(Tc)</div>
<div class="t" style="left:207px;top:631px">(Th1)</div>
<div class="t" style="left:53px;top:797px">(M)</div>
<div class="t" style="left:168px;top:434px">?</div><div class="t" style="left:168px;top:487px">?</div><div class="t" style="left:168px;top:512px">?</div>
<div class="t" style="left:273px;top:649px">?</div>
<div class="t" style="left:849px;top:414px">?</div><div class="t" style="left:849px;top:461px">?</div>
<div class="rb" style="left:456px;top:392px;width:102px;height:25px">Tight junction</div>
<div class="rb" style="left:455px;top:431px;width:103px;height:45px">Leukocyte<br>transendothelial<br>migration</div>
<div class="rb" style="left:456px;top:837px;width:102px;height:34px">Complement and<br>coagulation cascade</div>
<div class="rb" style="left:649px;top:835px;width:103px;height:44px">Leukocyte<br>transendothelial<br>migration</div>
<div class="rb" style="left:74px;top:842px;width:103px;height:33px">T cell receptor<br>signaling pathway</div>
<div class="rb" style="left:1220px;top:281px;width:103px;height:34px">Tight<br>junction</div>
<div class="rb" style="left:1220px;top:329px;width:103px;height:34px">Adherens<br>junction</div>
<div style="position:absolute;left:16px;top:864px;font-size:11px;line-height:12px">04514 3/6/25</div>
<div style="position:absolute;left:16px;top:902px;font-size:11px;line-height:12px">(c) Kanehisa Laboratories</div>
</div></body></html>
